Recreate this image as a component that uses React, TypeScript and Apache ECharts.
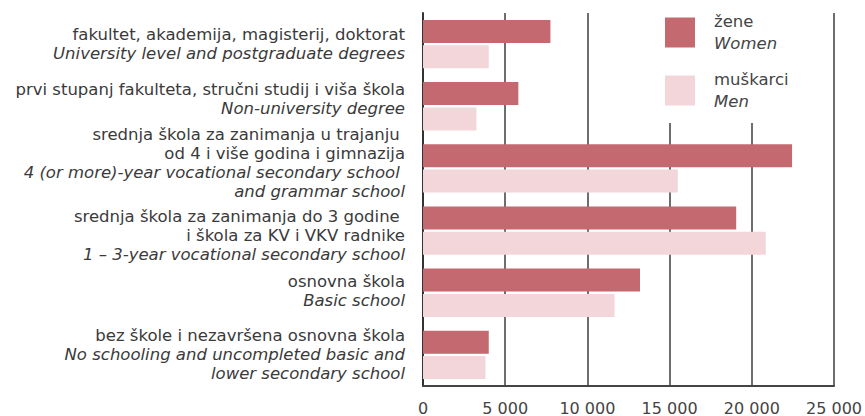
import React, { useEffect, useRef } from "react";
import * as echarts from "echarts";

const categoriesHr: string[][] = [
  ["fakultet, akademija, magisterij, doktorat"],
  ["prvi stupanj fakulteta, stručni studij i viša škola"],
  ["srednja škola za zanimanja u trajanju ", "od 4 i više godina i gimnazija"],
  ["srednja škola za zanimanja do 3 godine ", "i škola za KV i VKV radnike"],
  ["osnovna škola"],
  ["bez škole i nezavršena osnovna škola"],
];
const categoriesEn: string[][] = [
  ["University level and postgraduate degrees"],
  ["Non-university degree"],
  ["4 (or more)-year vocational secondary school ", "and grammar school"],
  ["1 – 3-year vocational secondary school"],
  ["Basic school"],
  ["No schooling and uncompleted basic and", "lower secondary school"],
];
const categoryKeys = ["c1", "c2", "c3", "c4", "c5", "c6"];
const women = [7750, 5800, 22450, 19050, 13200, 4000];
const men = [4000, 3250, 15500, 20850, 11650, 3800];
const seriesNames = ["žene", "muškarci"];
const seriesNamesEn = ["Women", "Men"];
const xTicks = { min: 0, max: 25000, interval: 5000 };

const FONT = "DejaVu Sans";
// vertical nudges of the category label blocks [top, bottom] padding
const labelPad: number[][] = [
  [0, 0],
  [0, 14],
  [0, 10],
  [10, 0],
  [0, 4],
  [0, 0],
];

export default function App() {
  const ref = useRef<HTMLDivElement>(null);
  useEffect(() => {
    if (!ref.current) return;
    const chart = echarts.init(ref.current, undefined, { renderer: "svg" });
    const labelFor = (i: number) =>
      [
        ...categoriesHr[i].map((l) => `{r|${l}}`),
        ...categoriesEn[i].map((l) => `{i|${l}}`),
      ].join("\n");
    chart.setOption({
      animation: false,
      grid: { left: 423, right: 30, top: 13, bottom: 30, containLabel: false },
      xAxis: {
        type: "value",
        min: xTicks.min,
        max: xTicks.max,
        interval: xTicks.interval,
        axisLine: { show: true, lineStyle: { color: "#444", width: 2 } },
        axisTick: { show: false },
        splitLine: { show: true, lineStyle: { color: "#4a4a4a", width: 1.6 } },
        axisLabel: {
          margin: 14,
          color: "#444",
          fontFamily: FONT,
          fontSize: 16,
          formatter: (v: number) => String(v).replace(/\B(?=(\d{3})+(?!\d))/g, " "),
        },
      },
      yAxis: {
        type: "category",
        inverse: true,
        data: categoryKeys.map((k, i) => ({
          value: k,
          textStyle: { padding: [labelPad[i][0], 0, labelPad[i][1], 0] },
        })),
        axisLine: { show: true, lineStyle: { color: "#333", width: 2 } },
        axisTick: { show: false },
        axisLabel: {
          margin: 18,
          align: "right",
          formatter: (_v: string, idx: number) => labelFor(idx),
          rich: {
            r: { fontFamily: FONT, fontSize: 16.5, color: "#3a3a3a", lineHeight: 19, align: "right" },
            i: { fontFamily: FONT, fontSize: 16.5, fontStyle: "italic", color: "#3a3a3a", lineHeight: 19, align: "right" },
          },
        },
      },
      legend: {
        orient: "vertical",
        left: 665,
        top: 13,
        padding: 0,
        itemWidth: 30,
        itemHeight: 30,
        itemGap: 19,
        icon: "rect",
        data: seriesNames,
        formatter: (name: string) => {
          const i = seriesNames.indexOf(name);
          return `{r|${name}}\n{i|${seriesNamesEn[i]}}`;
        },
        textStyle: {
          padding: [0, 0, 0, 14],
          rich: {
            r: { fontFamily: FONT, fontSize: 16.5, color: "#444", lineHeight: 22 },
            i: { fontFamily: FONT, fontSize: 16.5, fontStyle: "italic", color: "#444", lineHeight: 22 },
          },
        },
      },
      graphic: [
        {
          type: "rect",
          z: 1,
          shape: { x: 640, y: 0, width: 160, height: 123 },
          style: { fill: "#fff" },
        },
      ],
      series: [
        {
          name: seriesNames[0],
          type: "bar",
          data: women,
          barWidth: 23,
          barGap: "10%",
          itemStyle: { color: "#c4696f" },
          z: 2,
        },
        {
          name: seriesNames[1],
          type: "bar",
          data: men,
          barWidth: 23,
          barGap: "10%",
          itemStyle: { color: "#f2d6da" },
          z: 2,
        },
      ],
    });
    return () => chart.dispose();
  }, []);
  return (
    <div
      ref={ref}
      style={{ width: 865, height: 416, position: "absolute", left: 0, top: 0 }}
    />
  );
}
